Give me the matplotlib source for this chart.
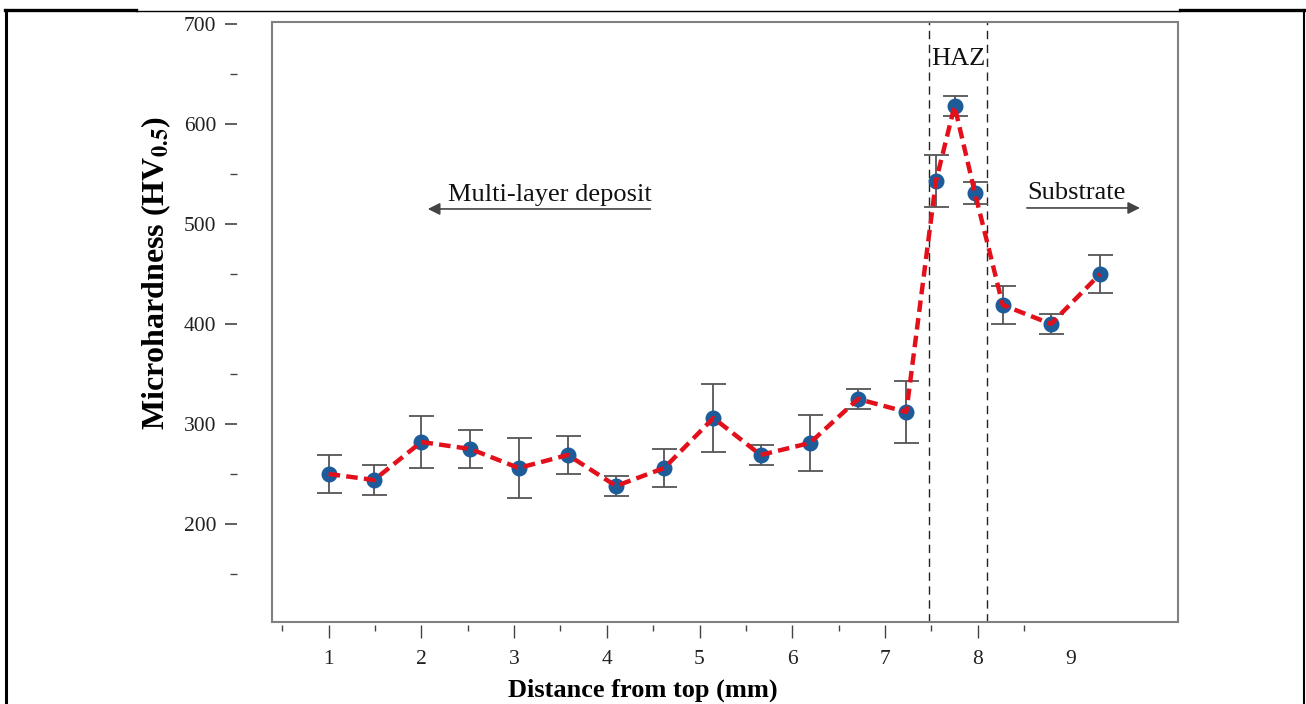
"""Microhardness profile across deposit, HAZ and substrate."""

import numpy as np
import matplotlib
matplotlib.use('Agg')
import matplotlib.pyplot as plt
from matplotlib.lines import Line2D
from matplotlib.patches import Rectangle

plt.rcParams['font.family'] = ['Liberation Serif', 'DejaVu Serif']
plt.rcParams['mathtext.fontset'] = 'stix'

# data
distance = [1.00, 1.49, 2.00, 2.53, 3.05, 3.58, 4.10, 4.62, 5.15, 5.66,
            6.19, 6.71, 7.23, 7.55, 7.75, 7.97, 8.27, 8.79, 9.32]
hardness = [250, 244, 282, 275, 256, 269, 238, 256, 306, 269,
            281, 325, 312, 543, 618, 531, 419, 400, 450]
error = [19, 15, 26, 19, 30, 19, 10, 19, 34, 10,
         28, 10, 31, 26, 10, 11, 19, 10, 19]
haz_bounds = [7.47, 8.10]
x_ticks = [1, 2, 3, 4, 5, 6, 7, 8, 9]
y_ticks = [200, 300, 400, 500, 600, 700]

# =============================================================================

fig = plt.figure(figsize=(13.06, 7.04), dpi=100)
ax = fig.add_axes([0.2083, 0.1165, 0.6937, 0.8523])

frame_col = '#808080'
ax.errorbar(distance, hardness, yerr=error, fmt='none', ecolor='#555555',
            elinewidth=1.3, capsize=9, capthick=1.3, zorder=2)
ax.plot(distance, hardness, 'o', color='#1d5c99', markersize=10.5, zorder=3)
ax.plot(distance, hardness, color='#e3101c', lw=3.2, ls=(0, (2.6, 1.4)),
        zorder=4)

for xb in haz_bounds:
    ax.axvline(xb, color='#222222', lw=1.0, ls=(0, (6, 4)), zorder=1)

ax.set_xlim(0.39, 10.16)
ax.set_ylim(102, 702)

# frame drawn separately, axis spines detached
for s in ax.spines.values():
    s.set_visible(False)
ax.spines['left'].set_position(('outward', 25))
ax.spines['bottom'].set_position(('outward', 2))
ax.add_patch(Rectangle((0, 0), 1, 1, transform=ax.transAxes, fill=False,
                       ec=frame_col, lw=1.5, clip_on=False, zorder=5))

ax.set_yticks(y_ticks)
ax.set_yticks(np.arange(150, 700, 100), minor=True)
ax.set_xticks(x_ticks)
ax.set_xticks(np.arange(0.5, 9.0, 1.0), minor=True)
ax.xaxis.get_major_ticks()[-1].tick1line.set_visible(False)
ax.tick_params(axis='y', which='major', length=9, width=1.2, color='#444444',
               labelsize=15.5, pad=6, labelcolor='#222222')
ax.tick_params(axis='y', which='minor', length=5, width=1.0, color='#444444')
ax.tick_params(axis='x', which='major', length=9, width=1.0, color='#444444',
               labelsize=15.5, pad=9, labelcolor='#222222')
ax.tick_params(axis='x', which='minor', length=4, width=1.0, color='#444444')

ax.text(7.79, 665, 'HAZ', fontsize=19, ha='center', va='center',
        color='#111111')
ax.text(3.39, 529, 'Multi-layer deposit', fontsize=19, ha='center',
        va='center', color='#111111')
ax.annotate('', xy=(2.07, 515), xytext=(4.47, 515),
            arrowprops=dict(arrowstyle='-|>', color='#444444', lw=1.2,
                            mutation_scale=18, shrinkA=0, shrinkB=0))
ax.text(9.06, 531, 'Substrate', fontsize=19, ha='center', va='center',
        color='#111111')
ax.annotate('', xy=(9.75, 516), xytext=(8.53, 516),
            arrowprops=dict(arrowstyle='-|>', color='#444444', lw=1.2,
                            mutation_scale=18, shrinkA=0, shrinkB=0))

fig.text(0.1195, 0.612, r'Microhardness (HV$_{\mathbf{0.5}}$)', rotation=90,
         ha='center', va='center', fontsize=23, fontweight='bold')
fig.text(0.492, 0.02, 'Distance from top (mm)', ha='center', va='center',
         fontsize=19, fontweight='bold')

# page border around the figure
fig.add_artist(Line2D([6/1306, 6/1306], [0, 1-10/704], color='black', lw=2.2))
fig.add_artist(Line2D([5/1306, 136/1306], [1-10/704, 1-10/704], color='black', lw=2.4))
fig.add_artist(Line2D([136/1306, 1180/1306], [1-10.5/704, 1-10.5/704], color='black', lw=1.0))
fig.add_artist(Line2D([1180/1306, 1305/1306], [1-10/704, 1-10/704], color='black', lw=2.4))
fig.add_artist(Line2D([1304/1306, 1304/1306], [0, 1-10/704], color='black', lw=1.5))

plt.savefig('out.png', dpi=100)
